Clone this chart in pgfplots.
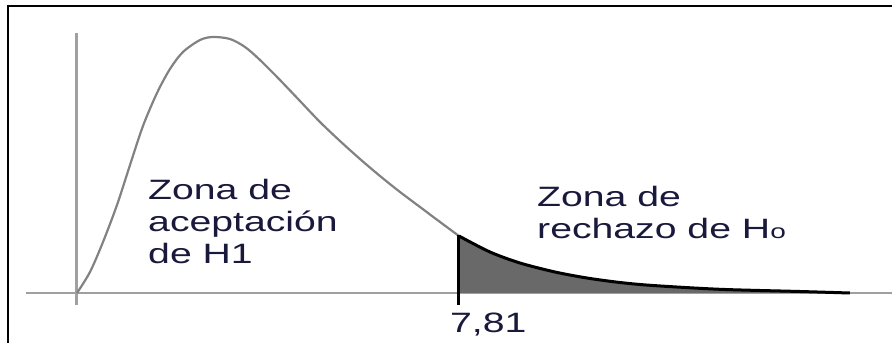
\documentclass[border=0pt]{standalone}
\usepackage{fontspec}
\setmainfont{Liberation Sans}
\usepackage{graphicx}
\usepackage{pgfplots}
\pgfplotsset{compat=1.18}

\definecolor{axisgray}{RGB}{160,160,160}
\definecolor{curvegray}{RGB}{130,130,130}
\definecolor{tailgray}{RGB}{105,105,105}
\definecolor{txt}{RGB}{25,25,60}

\newcommand{\lbl}[1]{\scalebox{1.4}[1]{\fontsize{28bp}{32bp}\selectfont #1}}

\begin{document}
\begin{tikzpicture}
\begin{axis}[
    hide axis,
    scale only axis,
    width=892bp, height=343bp,
    xmin=-1.574, xmax=16.663,
    ymin=-0.050, ymax=0.293,
    clip=false]

% frame (left and top edges)
\draw[black, line width=2.5bp] (axis cs:-1.411,-0.050) -- (axis cs:-1.411,0.287) -- (axis cs:16.663,0.287);

% axes
\draw[axisgray, line width=2bp] (axis cs:-1.043,0) -- (axis cs:16.663,0);
\draw[axisgray, line width=3bp] (axis cs:0,0.260) -- (axis cs:0,-0.012);

% acceptance part of the curve
\addplot[curvegray, line width=2.2bp, smooth] coordinates {
    (0,0) (0.266,0.021) (0.532,0.051) (0.818,0.088) (1.084,0.128)
    (1.349,0.167) (1.636,0.200) (1.901,0.224) (2.167,0.241) (2.515,0.253)
    (2.781,0.256) (3.128,0.254) (3.435,0.246) (3.742,0.233) (4.150,0.213)
    (4.559,0.192) (4.968,0.171) (5.377,0.152) (5.786,0.134) (6.195,0.117)
    (6.604,0.101) (7.013,0.086) (7.422,0.071) (7.81,0.057)};

% rejection region
\addplot[fill=tailgray, draw=none, smooth] coordinates {
    (7.81,0.057) (8.444,0.041) (9.057,0.030) (9.773,0.021) (10.427,0.015)
    (11.102,0.0105) (11.777,0.0075) (13.147,0.0037) (14.782,0.0015) (15.80,0)} \closedcycle;
\addplot[black, line width=3bp, smooth] coordinates {
    (7.81,0.057) (8.444,0.041) (9.057,0.030) (9.773,0.021) (10.427,0.015)
    (11.102,0.0105) (11.777,0.0075) (13.147,0.0037) (14.782,0.0015) (15.80,0)};

% critical value
\draw[black, line width=3bp] (axis cs:7.81,0.058) -- (axis cs:7.81,-0.012);

% labels
\node[anchor=base west, text=txt, inner sep=0] at (axis cs:1.452,0.093) {\lbl{Zona de}};
\node[anchor=base west, text=txt, inner sep=0] at (axis cs:1.452,0.061) {\lbl{aceptación}};
\node[anchor=base west, text=txt, inner sep=0] at (axis cs:1.452,0.029) {\lbl{de H1}};
\node[anchor=base west, text=txt, inner sep=0] at (axis cs:9.405,0.086) {\lbl{Zona de}};
\node[anchor=base west, text=txt, inner sep=0] at (axis cs:9.405,0.054) {\lbl{rechazo de H{\fontsize{20bp}{20bp}\selectfont o}}};
\node[anchor=base west, text=txt, inner sep=0] at (axis cs:7.626,-0.039) {\lbl{7,81}};
\end{axis}
\pgfresetboundingbox
\path[use as bounding box] (current axis.south west) rectangle (current axis.north east);
\end{tikzpicture}
\end{document}
